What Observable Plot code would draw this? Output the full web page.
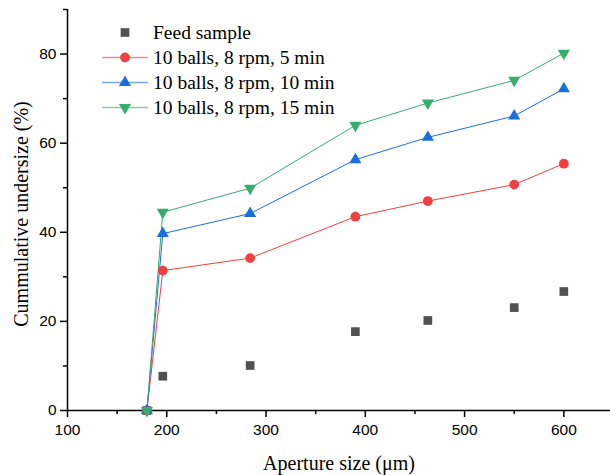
<!DOCTYPE html>
<html>
<head>
<meta charset="utf-8">
<script src="https://cdn.jsdelivr.net/npm/d3@7"></script>
<script src="https://cdn.jsdelivr.net/npm/@observablehq/plot@0.6"></script>
<style>
  html, body { margin: 0; padding: 0; background: #fff; }
  #wrap { position: relative; width: 610px; height: 475px; }
  #legend { position: absolute; left: 0; top: 0; pointer-events: none; }
</style>
</head>
<body>
<div id="wrap"></div>
<script>
// ---- data ----
const apertures = [180, 196, 284, 390, 463, 550, 600];
const feedSample = [0, 7.7, 10.1, 17.7, 20.2, 23.1, 26.7];
const run5min   = [0, 31.4, 34.2, 43.5, 47.0, 50.7, 55.4];
const run10min  = [0, 39.7, 44.2, 56.3, 61.3, 66.1, 72.2];
const run15min  = [0, 44.5, 49.9, 64.0, 69.0, 74.1, 80.2];

const seriesNames = ["Feed sample", "10 balls, 8 rpm, 5 min", "10 balls, 8 rpm, 10 min", "10 balls, 8 rpm, 15 min"];
const seriesColors = ["#515151", "#F14040", "#1A6FDF", "#37AD6B"];
const seriesSymbols = ["square", "circle", "triangle", "triangle"];
const seriesRotate = [0, 0, 0, 180];
const seriesR = [4.9, 4.9, 4.5, 4.5];
const seriesHasLine = [false, true, true, true];
const seriesValues = [feedSample, run5min, run10min, run15min];

const xMajor = [100, 200, 300, 400, 500, 600];
const xMinor = [150, 250, 350, 450, 550];
const yMajor = [0, 20, 40, 60, 80];
const yMinor = [10, 30, 50, 70, 90];

const xTitle = "Aperture size (μm)";
const yTitle = "Cummulative undersize (%)";

const rows = seriesValues.flatMap((vals, s) =>
  apertures.map((x, i) => ({x, y: vals[i], s})));

const serif = "'Liberation Serif', 'Times New Roman', serif";
const sans = "'Liberation Sans', Arial, sans-serif";

const marks = [
  Plot.ruleY([0], {stroke: "#000", strokeWidth: 1.5}),
  Plot.ruleX([100], {stroke: "#000", strokeWidth: 1.5}),
  Plot.axisX(xMajor, {tickSize: 7, tickPadding: 6, strokeWidth: 1.5, stroke: "#000", fill: "#000",
    fontFamily: sans, fontSize: 15.5, label: null}),
  Plot.axisX(xMinor, {tickSize: 4, strokeWidth: 1.5, stroke: "#000", text: null, label: null}),
  Plot.axisY(yMajor, {tickSize: 7, tickPadding: 4, strokeWidth: 1.5, stroke: "#000", fill: "#000",
    fontFamily: sans, fontSize: 15.5, label: null}),
  Plot.axisY(yMinor, {tickSize: 4, strokeWidth: 1.5, stroke: "#000", text: null, label: null}),
  Plot.text([xTitle], {frameAnchor: "bottom", dy: 53, textAnchor: "middle", fontFamily: serif, fontSize: 20, fill: "#000", lineAnchor: "middle"}),
  Plot.text([yTitle], {frameAnchor: "left", dx: -46, dy: 4, rotate: -90, textAnchor: "middle", fontFamily: serif, fontSize: 20, fill: "#000", lineAnchor: "middle"})
];

seriesValues.forEach((vals, s) => {
  const d = rows.filter(r => r.s === s);
  if (seriesHasLine[s]) marks.push(Plot.line(d, {x: "x", y: "y", stroke: seriesColors[s], strokeWidth: 1}));
});
seriesValues.forEach((vals, s) => {
  const d = rows.filter(r => r.s === s);
  marks.push(Plot.dot(d, {x: "x", y: "y", symbol: seriesSymbols[s], r: seriesR[s], rotate: seriesRotate[s],
    fill: seriesColors[s], stroke: "none"}));
});

const chart = Plot.plot({
  width: 610,
  height: 475,
  marginLeft: 67,
  marginRight: 0,
  marginTop: 9,
  marginBottom: 65,
  x: {domain: [100, 647], axis: null},
  y: {domain: [0, 90], axis: null},
  style: {background: "#fff", overflow: "visible", fontFamily: sans},
  marks
});

const wrap = document.getElementById("wrap");
wrap.appendChild(chart);

// ---- legend overlay ----
const leg = d3.select(wrap).append("svg").attr("id", "legend").attr("width", 610).attr("height", 140);
const symMap = {square: d3.symbolSquare, circle: d3.symbolCircle, triangle: d3.symbolTriangle};
const rowY = [32.5, 57.5, 82.5, 107.5];
seriesNames.forEach((name, s) => {
  const g = leg.append("g").attr("transform", `translate(0,${rowY[s]})`);
  if (seriesHasLine[s]) {
    g.append("line").attr("x1", 102).attr("x2", 148).attr("y1", 0).attr("y2", 0)
      .attr("stroke", seriesColors[s]).attr("stroke-width", 1.6).attr("stroke-opacity", 0.6);
  }
  g.append("path")
    .attr("d", d3.symbol(symMap[seriesSymbols[s]], seriesR[s] * seriesR[s] * Math.PI)())
    .attr("transform", `translate(125,0) rotate(${seriesRotate[s]})`)
    .attr("fill", seriesColors[s]);
  g.append("text").attr("x", 153).attr("y", 0).attr("dy", "0.33em")
    .attr("font-family", serif).attr("font-size", 19.5).attr("fill", "#000").text(name);
});
</script>
</body>
</html>
